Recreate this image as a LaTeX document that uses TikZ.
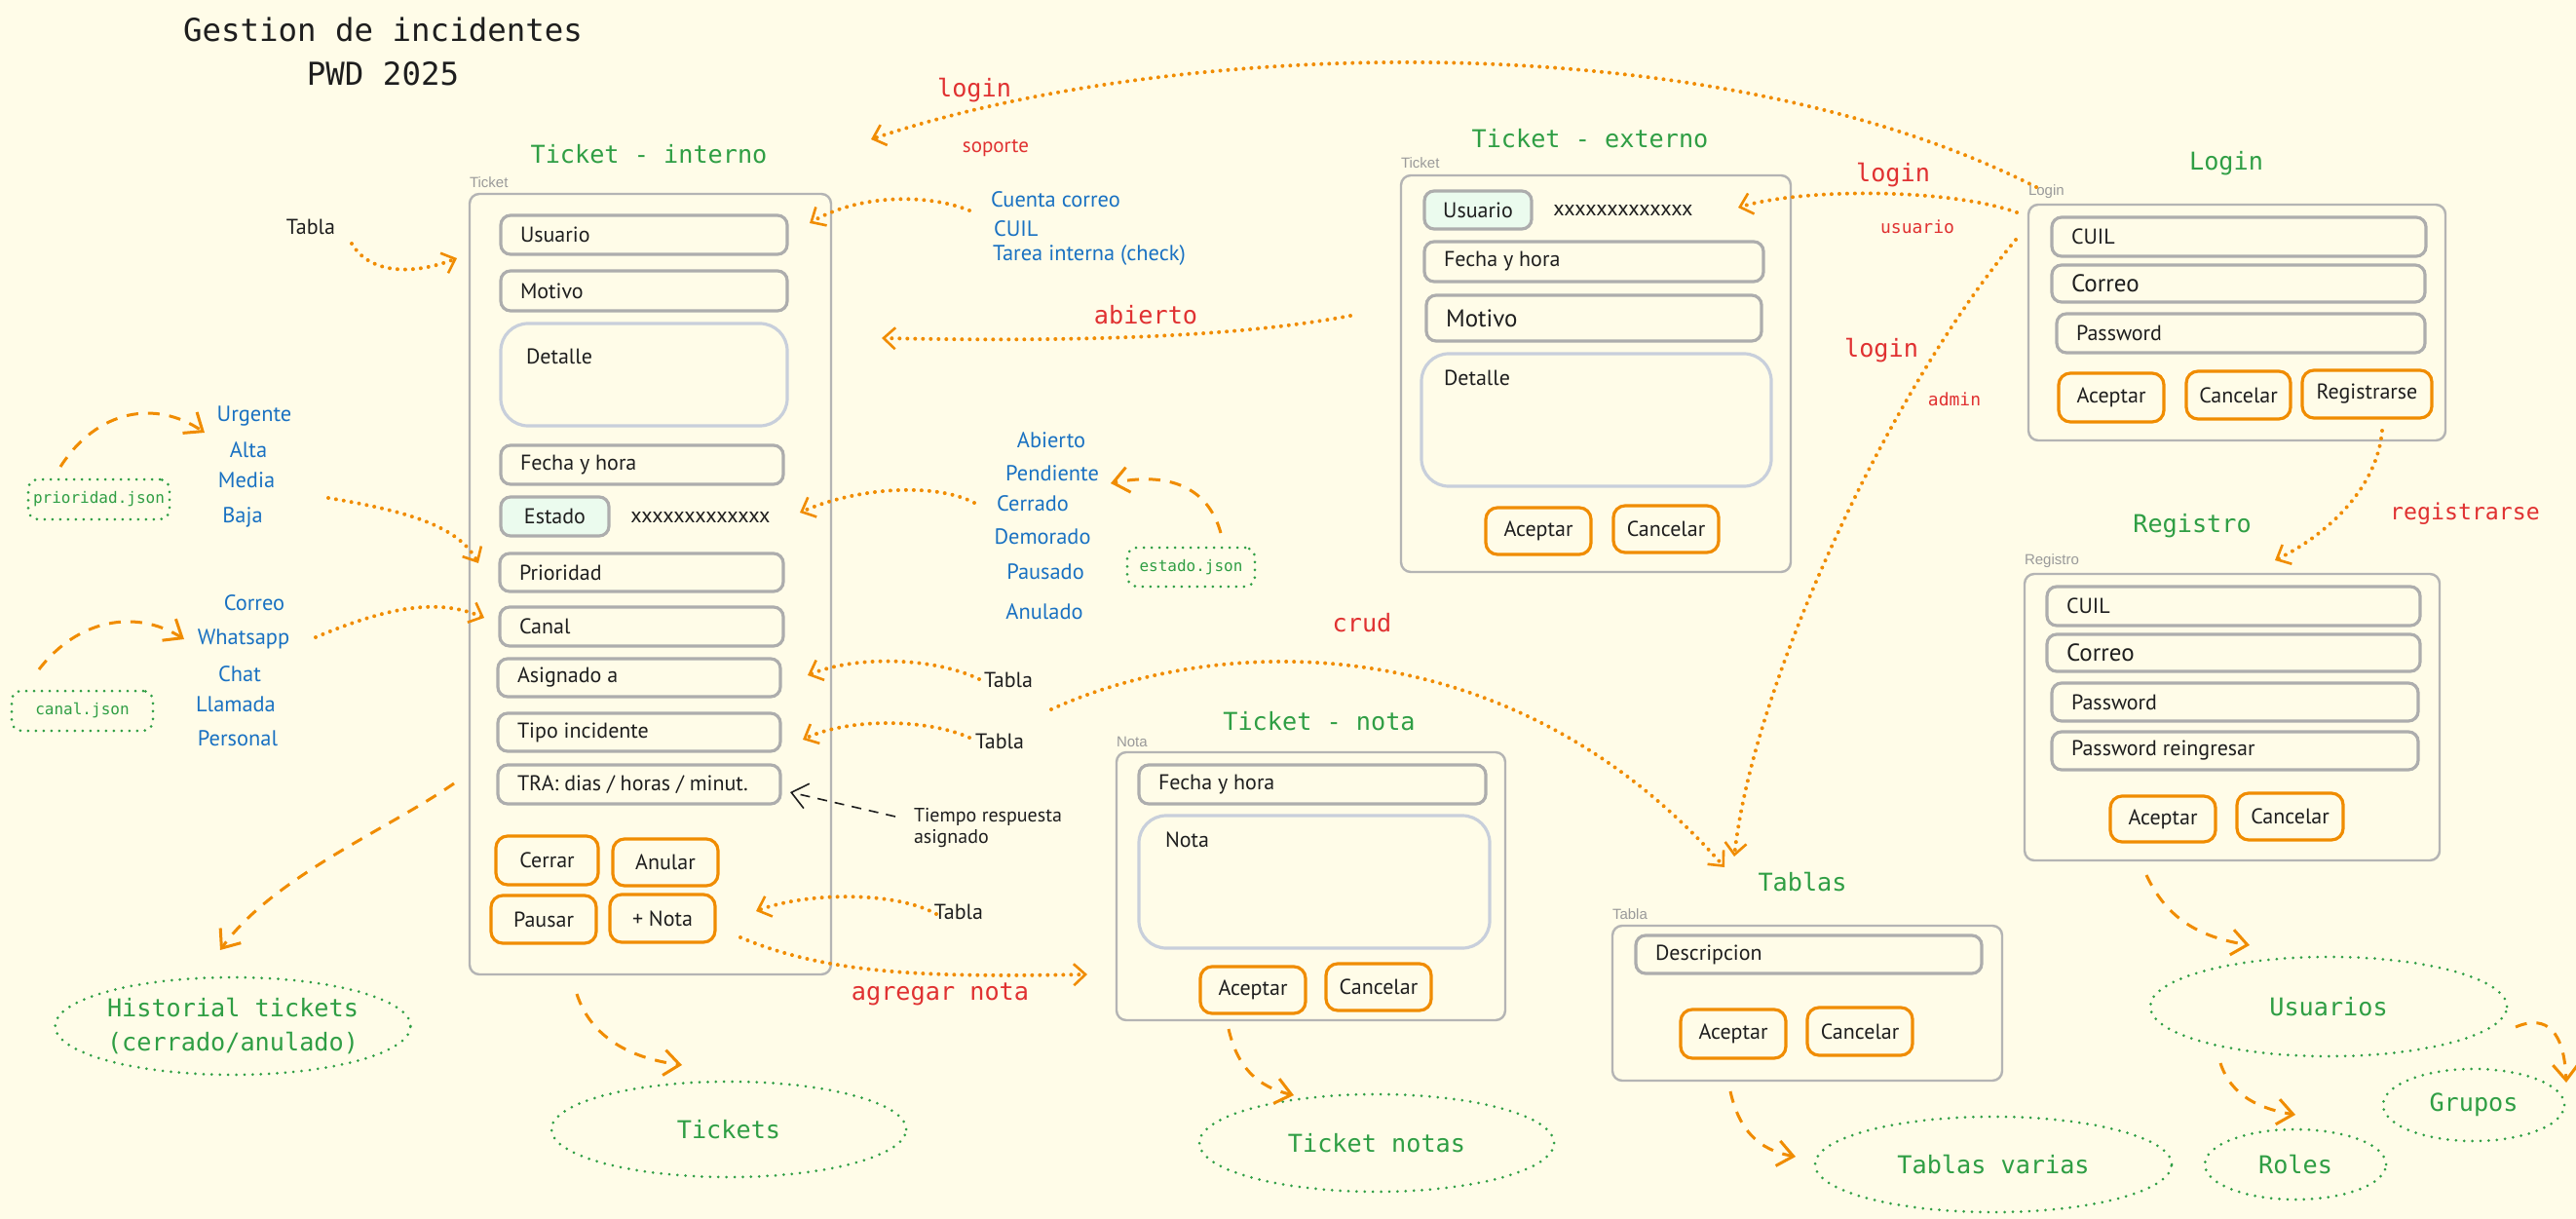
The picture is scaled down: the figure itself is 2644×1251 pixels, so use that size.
\documentclass[tikz,border=0pt]{standalone}
\usepackage{fontspec}
\usetikzlibrary{arrows.meta,shapes.geometric}
\newfontfamily\handf{PT Sans}
\newfontfamily\monof{DejaVu Sans Mono}
\newfontfamily\labf{Liberation Sans}
\definecolor{bgc}{HTML}{FFFCE8}
\definecolor{ink}{HTML}{1E1E1E}
\definecolor{grn}{HTML}{2F9E44}
\definecolor{rd}{HTML}{E03131}
\definecolor{blu}{HTML}{1971C2}
\definecolor{org}{HTML}{F08C00}
\definecolor{framegray}{HTML}{B4B4B4}
\definecolor{fieldgray}{HTML}{ADADAD}
\definecolor{areagray}{HTML}{C8CFDB}
\definecolor{chipfill}{HTML}{EBFBEE}
\definecolor{lblgray}{HTML}{9A9A9A}
\tikzset{
 every node/.style={inner sep=0pt, outer sep=0pt},
 hand/.style={font=\handf\fontsize{11}{13}\selectfont, text=ink},
 bluet/.style={font=\handf\fontsize{11.2}{13}\selectfont, text=blu},
 ttl/.style={font=\monof\fontsize{12.6}{15}\selectfont, text=grn},
 bigttl/.style={font=\monof\fontsize{16.2}{20}\selectfont, text=ink},
 redl/.style={font=\monof\fontsize{12.6}{15}\selectfont, text=rd},
 reds/.style={font=\monof\fontsize{9}{11}\selectfont, text=rd},
 lbl/.style={font=\labf\fontsize{7.5}{9}\selectfont, text=lblgray, anchor=south west},
 frame/.style={draw=framegray, line width=1.2pt, rounded corners=5pt},
 field/.style={draw=fieldgray, line width=1.6pt, rounded corners=5pt},
 area/.style={draw=areagray, line width=1.6pt, rounded corners=14pt},
 chip/.style={field, fill=chipfill, hand},
 btn/.style={draw=org, line width=1.6pt, rounded corners=6pt, hand},
 json/.style={draw=grn, line width=1.5pt, dash pattern=on 0pt off 4pt, line cap=round, rounded corners=5pt, font=\monof\fontsize{8}{10}\selectfont, text=grn},
 ell/.style={ellipse, draw=grn, line width=1.5pt, dash pattern=on 0pt off 4.2pt, line cap=round, font=\monof\fontsize{12.6}{17.5}\selectfont, text=grn, align=center},
 dotarr/.style={draw=org, line width=2pt, dash pattern=on 0pt off 4pt, line cap=round, -{Straight Barb[length=6pt,width=11pt,line width=1.3pt]}},
 dasharr/.style={draw=org, line width=1.5pt, dash pattern=on 6pt off 5pt, -{Straight Barb[length=8pt,width=13pt,line width=1.5pt]}},
 blkarr/.style={draw=ink, line width=0.8pt, dash pattern=on 5pt off 4pt, -{Straight Barb[length=8pt,width=13pt,line width=0.8pt]}},
}
\newcommand\mybx[6]{\node[#1, minimum width={(#5-#3)*0.5pt}, minimum height={(#6-#4)*0.5pt}] (#2) at ({(#3+#5)/2},{(#4+#6)/2}) {};}
\newcommand\myfld[7][field]{\mybx{#1}{#2}{#3}{#4}{#5}{#6}\node[hand, anchor=west] (#2t) at ([xshift=10pt]#2.west) {#7};}
\newcommand\btnat[7][btn]{\node[#1, minimum width={(#5-#3)*0.5pt}, minimum height={(#6-#4)*0.5pt}] (#2) at ({(#3+#5)/2},{(#4+#6)/2}) {#7};}
\newcommand\ellat[6]{\node[ell, minimum width={2*#4*0.5pt}, minimum height={2*#5*0.5pt}] (#1) at (#2,#3) {#6};}
\begin{document}
\begin{tikzpicture}[x=0.5pt,y=-0.5pt]
\useasboundingbox (0,0) rectangle (2644,1251);
\fill[bgc] (0,0) rectangle (2644,1251);

% ---------- title
\node[bigttl] (t1) at (393,30) {Gestion de incidentes};
\node[bigttl] (t2) at (393,76) {PWD 2025};

% ---------- Ticket interno
\node[ttl] (ti-title) at (666,158) {Ticket - interno};
\node[lbl] (ti-lbl) at (482,193) {Ticket};
\mybx{frame}{ti}{482}{199}{853}{1000}
\myfld{ti-usr}{514}{221}{808}{261}{Usuario}
\myfld{ti-mot}{514}{278}{808}{319}{Motivo}
\mybx{area}{ti-det}{514}{332}{808}{437}
\node[hand, anchor=west] (ti-dett) at (540,366) {Detalle};
\myfld{ti-fec}{514}{457}{804}{497}{Fecha y hora}
\btnat[chip]{ti-est}{514}{510}{625}{550}{Estado}
\node[hand] (ti-x) at (719,531) {xxxxxxxxxxxxx};
\myfld{ti-pri}{513}{568}{804}{607}{Prioridad}
\myfld{ti-can}{513}{623}{804}{663}{Canal}
\myfld{ti-asg}{511}{676}{801}{715}{Asignado a}
\myfld{ti-tip}{511}{732}{801}{771}{Tipo incidente}
\myfld{ti-tra}{511}{785}{801}{825}{TRA: dias / horas / minut.}
\btnat{b-cer}{509}{858}{614}{908}{Cerrar}
\btnat{b-anu}{629}{861}{737}{909}{Anular}
\btnat{b-pau}{504}{919}{612}{968}{Pausar}
\btnat{b-not}{626}{918}{734}{967}{+ Nota}

% ---------- left lists
\node[hand] (tb1) at (319,233) {Tabla};
\node[bluet] (p1) at (261,427) {Urgente};
\node[bluet] (p2) at (255,462) {Alta};
\node[bluet] (p3) at (253,493) {Media};
\node[bluet] (p4) at (249,531) {Baja};
\btnat[json]{pjson}{29}{492}{174}{533}{prioridad.json}
\node[bluet] (k1) at (261,619) {Correo};
\node[bluet] (k2) at (250,656) {Whatsapp};
\node[bluet] (k3) at (246,692) {Chat};
\node[bluet] (k4) at (242,723) {Llamada};
\node[bluet] (k5) at (244,758) {Personal};
\btnat[json]{cjson}{12}{709}{157}{750}{canal.json}

% ---------- right of interno
\node[redl] (lg1) at (1000,93) {login};
\node[font=\handf\fontsize{10.5}{12}\selectfont, text=rd] (sop) at (1022,152) {soporte};
\node[bluet, anchor=west] (u1) at (1017,205) {Cuenta correo};
\node[bluet, anchor=west] (u2) at (1020,235) {CUIL};
\node[bluet, anchor=west] (u3) at (1019,262) {Tarea interna (check)};
\node[redl] (abi) at (1176,323) {abierto};
\node[bluet] (e1) at (1079,452) {Abierto};
\node[bluet] (e2) at (1080,486) {Pendiente};
\node[bluet] (e3) at (1060,517) {Cerrado};
\node[bluet] (e4) at (1070,551) {Demorado};
\node[bluet] (e5) at (1073,587) {Pausado};
\node[bluet] (e6) at (1072,628) {Anulado};
\btnat[json]{ejson}{1157}{562}{1288}{602}{estado.json}
\node[redl] (crud) at (1398,639) {crud};
\node[hand] (tb2) at (1035,698) {Tabla};
\node[hand] (tb3) at (1026,761) {Tabla};
\node[hand, font=\handf\fontsize{10}{12}\selectfont, anchor=west, align=left] (tra) at (938,850) {Tiempo respuesta\\[-1pt]asignado};
\node[hand] (tb4) at (984,936) {Tabla};
\node[redl] (agn) at (965,1020) {agregar nota};

% ---------- Ticket externo
\node[ttl] (te-title) at (1632,142) {Ticket - externo};
\node[lbl] (te-lbl) at (1438,173) {Ticket};
\mybx{frame}{te}{1438}{180}{1838}{587}
\btnat[chip]{te-usr}{1462}{196}{1572}{235}{Usuario}
\node[hand] (te-x) at (1666,216) {xxxxxxxxxxxxx};
\myfld{te-fec}{1462}{248}{1810}{289}{Fecha y hora}
\myfld{te-mot}{1464}{303}{1808}{350}{\fontsize{12.5}{14}\selectfont Motivo}
\mybx{area}{te-det}{1459}{363}{1818}{499}
\node[hand, anchor=west] (te-dett) at (1482,388) {Detalle};
\btnat{te-ace}{1525}{521}{1633}{569}{Aceptar}
\btnat{te-can}{1656}{519}{1764}{567}{Cancelar}

% ---------- Login
\node[ttl] (lg-title) at (2285,168) {Login};
\node[lbl] (lg-lbl) at (2082,204) {Login};
\mybx{frame}{lg}{2082}{210}{2510}{452}
\myfld{lg-cuil}{2106}{223}{2490}{263}{CUIL}
\myfld{lg-cor}{2106}{272}{2489}{310}{\fontsize{12.5}{14}\selectfont Correo}
\myfld{lg-pas}{2111}{322}{2489}{362}{Password}
\btnat{lg-ace}{2113}{383}{2221}{433}{Aceptar}
\btnat{lg-can}{2244}{381}{2351}{430}{Cancelar}
\btnat{lg-reg}{2363}{380}{2496}{429}{Registrarse}
\node[redl] (lg2) at (1943,180) {login};
\node[reds] (usu) at (1968,233) {usuario};
\node[redl] (lg3) at (1931,360) {login};
\node[reds] (adm) at (2006,410) {admin};
\node[redl, font=\monof\fontsize{11.6}{14}\selectfont] (regl) at (2530,527) {registrarse};

% ---------- Registro
\node[ttl] (rg-title) at (2250,540) {Registro};
\node[lbl] (rg-lbl) at (2078,583) {Registro};
\mybx{frame}{rg}{2078}{589}{2504}{883}
\myfld{rg-cuil}{2101}{602}{2484}{642}{CUIL}
\myfld{rg-cor}{2101}{651}{2484}{689}{\fontsize{12.5}{14}\selectfont Correo}
\myfld{rg-pas}{2106}{701}{2482}{740}{Password}
\myfld{rg-pas2}{2106}{751}{2482}{790}{Password reingresar}
\btnat{rg-ace}{2166}{817}{2274}{864}{Aceptar}
\btnat{rg-can}{2296}{814}{2405}{862}{Cancelar}

% ---------- Ticket nota
\node[ttl] (tn-title) at (1354,740) {Ticket - nota};
\node[lbl] (tn-lbl) at (1146,767) {Nota};
\mybx{frame}{tn}{1146}{772}{1545}{1047}
\myfld{tn-fec}{1169}{785}{1525}{825}{Fecha y hora}
\mybx{area}{tn-nota}{1169}{837}{1529}{973}
\node[hand, anchor=west] (tn-notat) at (1196,862) {Nota};
\btnat{tn-ace}{1232}{992}{1340}{1040}{Aceptar}
\btnat{tn-can}{1361}{989}{1469}{1037}{Cancelar}

% ---------- Tablas
\node[ttl] (tb-title) at (1850,905) {Tablas};
\node[lbl] (tb-lbl) at (1655,944) {Tabla};
\mybx{frame}{tbf}{1655}{950}{2055}{1109}
\myfld{tb-des}{1679}{960}{2034}{999}{Descripcion}
\btnat{tb-ace}{1725}{1036}{1833}{1086}{Aceptar}
\btnat{tb-can}{1855}{1034}{1963}{1083}{Cancelar}

% ---------- ellipses
\ellat{hist}{239}{1053}{182}{50}{Historial tickets\\(cerrado/anulado)}
\ellat{tks}{748}{1159}{182}{49}{Tickets}
\ellat{tnotas}{1413}{1173}{182}{50}{Ticket notas}
\ellat{tvar}{2046}{1195}{183}{49}{Tablas varias}
\ellat{usrs}{2390}{1033}{183}{51}{Usuarios}
\ellat{roles}{2356}{1195}{93}{36}{Roles}
\ellat{grupos}{2539}{1134}{93}{37}{Grupos}

% ---------- connector ends
\coordinate (c1s) at (361,250);  \coordinate (c1e) at (469,265);
\coordinate (c2s) at (2090,192); \coordinate (c2e) at (894,143);
\coordinate (c3s) at (995,216);  \coordinate (c3e) at (831,229);
\coordinate (c4s) at (1386,324); \coordinate (c4e) at (905,347);
\coordinate (c5s) at (337,511);  \coordinate (c5e) at (491,578);
\coordinate (c6s) at (324,654);  \coordinate (c6e) at (497,634);
\coordinate (c7s) at (1000,516); \coordinate (c7e) at (821,526);
\coordinate (c8s) at (1005,697); \coordinate (c8e) at (829,693);
\coordinate (c9s) at (995,757);  \coordinate (c9e) at (824,759);
\coordinate (c10s) at (961,938); \coordinate (c10e) at (776,935);
\coordinate (c11s) at (760,962); \coordinate (c11e) at (1116,1000);
\coordinate (c12s) at (1079,728); \coordinate (c12e) at (1770,890);
\coordinate (c13s) at (2070,218); \coordinate (c13e) at (1784,213);
\coordinate (c14s) at (2069,246); \coordinate (c14e) at (1780,879);
\coordinate (c15s) at (2445,442); \coordinate (c15e) at (2335,575);
\coordinate (d1s) at (62,479);   \coordinate (d1e) at (210,444);
\coordinate (d2s) at (40,687);   \coordinate (d2e) at (189,656);
\coordinate (d3s) at (1253,547); \coordinate (d3e) at (1140,496);
\coordinate (d4s) at (466,804);  \coordinate (d4e) at (226,975);
\coordinate (d5s) at (592,1020); \coordinate (d5e) at (700,1093);
\coordinate (d6s) at (1261,1056); \coordinate (d6e) at (1328,1124);
\coordinate (d7s) at (1776,1120); \coordinate (d7e) at (1843,1187);
\coordinate (d8s) at (2203,898); \coordinate (d8e) at (2309,970);
\coordinate (d9s) at (2279,1091); \coordinate (d9e) at (2356,1144);
\coordinate (d10s) at (2582,1054); \coordinate (d10e) at (2634,1111);
\coordinate (k1s) at (919,838);  \coordinate (k1e) at (811,813);

% dotted orange
\draw[dotarr] (c1s) .. controls (380,282) and (425,282) .. (c1e);
\draw[dotarr] (c2s) .. controls (1750,20) and (1200,40) .. (c2e);
\draw[dotarr] (c3s) .. controls (950,198) and (880,200) .. (c3e);
\draw[dotarr] (c4s) .. controls (1250,350) and (1050,350) .. (c4e);
\draw[dotarr] (c5s) .. controls (420,525) and (470,540) .. (c5e);
\draw[dotarr] (c6s) .. controls (400,622) and (450,614) .. (c6e);
\draw[dotarr] (c7s) .. controls (960,495) and (880,500) .. (c7e);
\draw[dotarr] (c8s) .. controls (960,675) and (880,672) .. (c8e);
\draw[dotarr] (c9s) .. controls (950,737) and (870,737) .. (c9e);
\draw[dotarr] (c10s) .. controls (920,915) and (830,915) .. (c10e);
\draw[dotarr] (c11s) .. controls (850,1000) and (950,1003) .. (c11e);
\draw[dotarr] (c12s) .. controls (1250,650) and (1550,640) .. (c12e);
\draw[dotarr] (c13s) .. controls (2000,193) and (1850,193) .. (c13e);
\draw[dotarr] (c14s) .. controls (1940,400) and (1800,700) .. (c14e);
\draw[dotarr] (c15s) .. controls (2440,500) and (2390,548) .. (c15e);

% dashed orange
\draw[dasharr] (d1s) .. controls (100,420) and (160,410) .. (d1e);
\draw[dasharr] (d2s) .. controls (80,635) and (140,625) .. (d2e);
\draw[dasharr] (d3s) .. controls (1240,500) and (1200,484) .. (d3e);
\draw[dasharr] (d4s) .. controls (400,850) and (280,900) .. (d4e);
\draw[dasharr] (d5s) .. controls (605,1060) and (640,1085) .. (d5e);
\draw[dasharr] (d6s) .. controls (1270,1095) and (1290,1115) .. (d6e);
\draw[dasharr] (d7s) .. controls (1785,1160) and (1805,1180) .. (d7e);
\draw[dasharr] (d8s) .. controls (2225,945) and (2260,962) .. (d8e);
\draw[dasharr] (d9s) .. controls (2290,1125) and (2320,1138) .. (d9e);
\draw[dasharr] (d10s) .. controls (2615,1040) and (2632,1060) .. (d10e);

% black dashed
\draw[blkarr] (k1s) -- (k1e);
\end{tikzpicture}
\end{document}
